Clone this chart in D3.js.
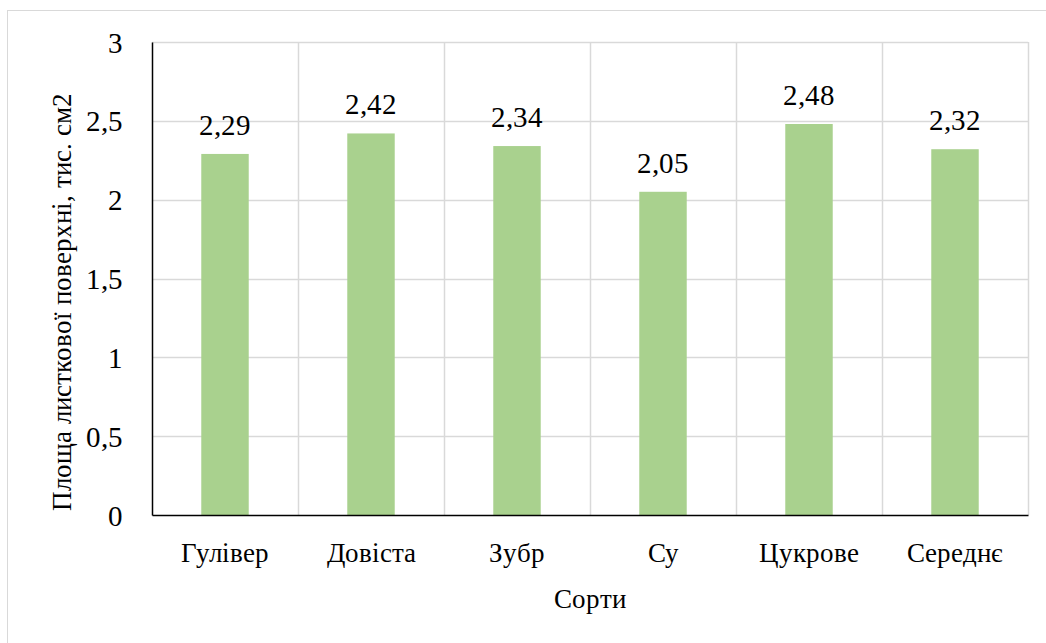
<!DOCTYPE html>
<html>
<head>
<meta charset="utf-8">
<script src="https://cdn.jsdelivr.net/npm/d3@7"></script>
<style>
  @font-face { font-family: "ChartSerif"; src: local("Liberation Serif"), local("LiberationSerif"), local("Tinos"); }
  body { margin: 0; background: #fff; }
  svg text { font-family: "ChartSerif", "Liberation Serif", serif; }
</style>
</head>
<body>
<div id="chart"></div>
<script>
// categories and values
var categories = ["Гулівер", "Довіста", "Зубр", "Су", "Цукрове", "Середнє"];
var values = [2.29, 2.42, 2.34, 2.05, 2.48, 2.32];
var yTicks = [0, 0.5, 1, 1.5, 2, 2.5, 3];
var yTitle = "Площа листкової поверхні, тис. см2";
var xTitle = "Сорти";

var width = 1046, height = 643;
var margin = {top: 42, left: 152, right: 18, bottom: 128}; // plot area edges

var svg = d3.select("#chart").append("svg")
    .attr("width", width)
    .attr("height", height);

// outer chart border
svg.append("rect")
    .attr("x", 7.5).attr("y", 10.5)
    .attr("width", width).attr("height", height)
    .attr("fill", "#fff")
    .attr("stroke", "#d9d9d9");

var x = d3.scaleBand()
    .domain(categories)
    .range([margin.left, width - margin.right])
    .paddingInner(0).paddingOuter(0);

var y = d3.scaleLinear()
    .domain([0, 3])
    .range([height - margin.bottom, margin.top]);

var fmt = function(v) { return String(v).replace(".", ","); };

// horizontal gridlines
svg.append("g").selectAll("line")
    .data(yTicks.filter(d => d > 0))
    .join("line")
    .attr("x1", margin.left).attr("x2", width - margin.right)
    .attr("y1", d => Math.round(y(d)) + 0.5).attr("y2", d => Math.round(y(d)) + 0.5)
    .attr("stroke", "#d9d9d9").attr("stroke-width", 1.5);

// vertical gridlines at category boundaries
svg.append("g").selectAll("line")
    .data(categories)
    .join("line")
    .attr("x1", d => Math.round(x(d) + x.bandwidth()) + 0.5)
    .attr("x2", d => Math.round(x(d) + x.bandwidth()) + 0.5)
    .attr("y1", margin.top).attr("y2", height - margin.bottom)
    .attr("stroke", "#d9d9d9").attr("stroke-width", 1.5);

// bars
var barW = x.bandwidth() * 0.325;
svg.append("g").selectAll("rect")
    .data(values)
    .join("rect")
    .attr("x", (d, i) => x(categories[i]) + x.bandwidth() / 2 - barW / 2)
    .attr("y", d => y(d))
    .attr("width", barW)
    .attr("height", d => y(0) - y(d))
    .attr("fill", "#a9d18e");

// data labels
svg.append("g").selectAll("text")
    .data(values)
    .join("text")
    .attr("x", (d, i) => x(categories[i]) + x.bandwidth() / 2)
    .attr("y", d => y(d) - 19)
    .attr("text-anchor", "middle")
    .style("font-size", "29px")
    .text(d => fmt(d));

// y axis
var yAxis = svg.append("g")
    .attr("transform", "translate(" + margin.left + ",0)")
    .call(d3.axisLeft(y).tickValues(yTicks).tickSize(0).tickPadding(29).tickFormat(fmt))
    .attr("font-family", null);
yAxis.select(".domain").attr("stroke", "#000").attr("stroke-width", 1.5);
yAxis.selectAll("text").style("font-size", "29px").attr("dy", "0.35em").attr("fill", "#000");

// x axis
var xAxis = svg.append("g")
    .attr("transform", "translate(0," + (height - margin.bottom) + ")")
    .call(d3.axisBottom(x).tickSize(0).tickPadding(28))
    .attr("font-family", null);
xAxis.select(".domain").attr("stroke", "#000").attr("stroke-width", 1.5);
xAxis.selectAll("text").style("font-size", "27px").attr("fill", "#000");

// axis titles
svg.append("text")
    .attr("x", (margin.left + width - margin.right) / 2)
    .attr("y", 608)
    .attr("text-anchor", "middle")
    .style("font-size", "27px")
    .text(xTitle);

svg.append("text")
    .attr("transform", "translate(71,302) rotate(-90)")
    .attr("text-anchor", "middle")
    .style("font-size", "27px")
    .text(yTitle);
</script>
</body>
</html>
